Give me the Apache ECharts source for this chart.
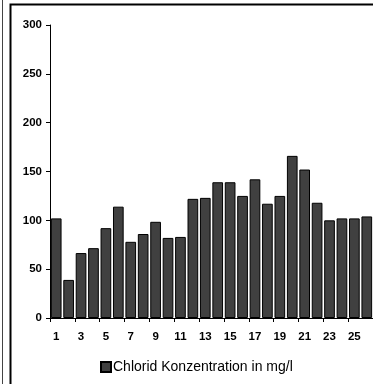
<!DOCTYPE html>
<html><head><meta charset="utf-8">
<script src="https://cdn.jsdelivr.net/npm/echarts@6/dist/echarts.min.js"></script>
<style>html,body{margin:0;padding:0;background:#fff;}#c{width:373px;height:384px;}</style>
</head><body><div id="c"></div>
<script>
var categories = ['1','2','3','4','5','6','7','8','9','10','11','12','13','14','15','16','17','18','19','20','21','22','23','24','25','26'];
var chloridValues = [102,39,66.5,71.5,92,114,78,86,98.5,82,83,122,123,139,139,125,142,117,125,166,152,118,100,102,102,104];
var yTicks = [0,50,100,150,200,250,300];
var seriesName = 'Chlorid Konzentration in mg/l';

var chart = echarts.init(document.getElementById('c'), null, {renderer:'canvas'});
chart.setOption({
  animation:false,
  backgroundColor:'#fff',
  grid:{left:50, top:25, width:327, height:293},
  legend:{
    data:[seriesName], left:95, top:355, itemWidth:10, itemHeight:10, itemGap:4,
    icon:'rect',
    textStyle:{fontFamily:'Liberation Sans, Arial', fontSize:14, color:'#000', padding:[0,0,0,-3]}
  },
  xAxis:{
    type:'category', data:categories,
    axisLine:{lineStyle:{color:'#000', width:1}},
    axisTick:{show:true, alignWithLabel:false, length:4, lineStyle:{color:'#000'}},
    axisLabel:{interval:1, color:'#000', fontWeight:'bold', fontFamily:'Liberation Sans, Arial', fontSize:11.5, margin:13}
  },
  yAxis:{
    type:'value', min:yTicks[0], max:yTicks[yTicks.length-1], interval:50,
    axisLine:{show:true, lineStyle:{color:'#000', width:1}},
    axisTick:{show:true, length:4, lineStyle:{color:'#000'}},
    splitLine:{show:false},
    axisLabel:{color:'#000', fontWeight:'bold', fontFamily:'Liberation Sans, Arial', fontSize:11.5, margin:8}
  },
  series:[{
    name:seriesName, type:'bar', data:chloridValues,
    barCategoryGap:'14%',
    itemStyle:{color:'#404040', borderColor:'#000', borderWidth:1}
  }],
  graphic:[
    {type:'rect', shape:{x:10.5, y:4.5, width:400, height:400}, style:{fill:'none', stroke:'#000', lineWidth:2}, silent:true},
    {type:'line', shape:{x1:2.5, y1:0, x2:2.5, y2:384}, style:{stroke:'#444', lineWidth:1}, silent:true}
  ]
});
</script></body></html>
